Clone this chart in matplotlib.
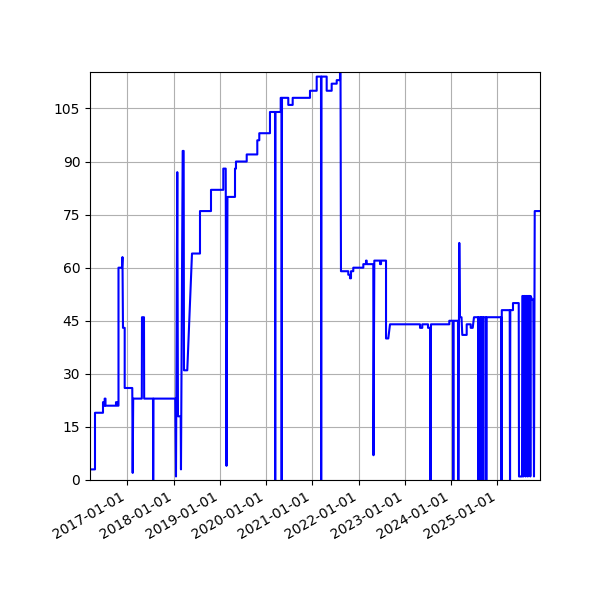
import matplotlib
matplotlib.use("Agg")
import matplotlib.pyplot as plt
import matplotlib.dates as mdates
from matplotlib.ticker import MultipleLocator
import numpy as np
import pandas as pd

# sample times
years = [2016.194, 2016.302, 2016.302, 2016.475, 2016.475, 2016.496, 2016.496, 2016.511,
         2016.511, 2016.529, 2016.529, 2016.756, 2016.756, 2016.784, 2016.784, 2016.810,
         2016.810, 2016.885, 2016.896, 2016.907, 2016.944, 2016.944, 2017.108, 2017.117,
         2017.128, 2017.314, 2017.318, 2017.361, 2017.365, 2017.556, 2017.560, 2017.566,
         2018.038, 2018.053, 2018.081, 2018.096, 2018.155, 2018.161, 2018.198, 2018.219,
         2018.226, 2018.297, 2018.399, 2018.572, 2018.572, 2018.810, 2018.810, 2019.076,
         2019.076, 2019.128, 2019.145, 2019.166, 2019.329, 2019.329, 2019.350, 2019.350,
         2019.582, 2019.582, 2019.811, 2019.811, 2019.854, 2019.854, 2020.085, 2020.085,
         2020.194, 2020.198, 2020.204, 2020.317, 2020.317, 2020.334, 2020.338, 2020.345,
         2020.481, 2020.481, 2020.576, 2020.576, 2020.950, 2020.950, 2021.095, 2021.095,
         2021.188, 2021.192, 2021.199, 2021.311, 2021.311, 2021.419, 2021.419, 2021.528,
         2021.528, 2021.599, 2021.599, 2021.610, 2021.620, 2021.778, 2021.778, 2021.815,
         2021.815, 2021.837, 2021.837, 2021.886, 2021.886, 2022.103, 2022.103, 2022.161,
         2022.161, 2022.176, 2022.176, 2022.319, 2022.323, 2022.341, 2022.464, 2022.464,
         2022.486, 2022.486, 2022.594, 2022.594, 2022.643, 2022.680, 2023.329, 2023.329,
         2023.378, 2023.378, 2023.502, 2023.502, 2023.545, 2023.556, 2023.566, 2023.962,
         2023.962, 2024.042, 2024.049, 2024.055, 2024.150, 2024.157, 2024.178, 2024.193,
         2024.226, 2024.243, 2024.338, 2024.338, 2024.425, 2024.425, 2024.468, 2024.496,
         2024.583, 2024.589, 2024.596, 2024.637, 2024.641, 2024.648, 2024.691, 2024.697,
         2024.704, 2024.756, 2024.762, 2024.769, 2025.086, 2025.091, 2025.097, 2025.268,
         2025.275, 2025.281, 2025.339, 2025.339, 2025.463, 2025.469, 2025.534, 2025.541,
         2025.556, 2025.562, 2025.577, 2025.605, 2025.612, 2025.627, 2025.653, 2025.659,
         2025.670, 2025.707, 2025.714, 2025.722, 2025.750, 2025.778, 2025.793, 2025.809,
         2025.923]

values = [3, 3, 19, 19, 22, 22, 21, 21,
          23, 23, 21, 21, 22, 22, 21, 21,
          60, 60, 63, 43, 43, 26, 26, 2,
          23, 23, 46, 46, 23, 23, 0, 23,
          23, 1, 87, 18, 18, 3, 93, 93,
          31, 31, 64, 64, 76, 76, 82, 82,
          88, 88, 4, 80, 80, 88, 88, 90,
          90, 92, 92, 96, 96, 98, 98, 104,
          104, 0, 104, 104, 108, 108, 0, 108,
          108, 106, 106, 108, 108, 110, 110, 114,
          114, 0, 114, 114, 110, 110, 112, 112,
          113, 113, 116, 116, 59, 59, 58, 58,
          57, 57, 59, 59, 60, 60, 61, 61,
          62, 62, 61, 61, 7, 62, 62, 61,
          61, 62, 62, 40, 40, 44, 44, 43,
          43, 44, 44, 43, 43, 0, 44, 44,
          45, 45, 0, 45, 45, 0, 67, 46,
          46, 41, 41, 44, 44, 43, 43, 46,
          46, 0, 46, 46, 0, 46, 46, 0,
          46, 46, 0, 46, 46, 0, 48, 48,
          0, 48, 48, 50, 50, 1, 1, 52,
          52, 1, 52, 52, 1, 52, 52, 1,
          52, 52, 1, 52, 51, 51, 1, 76,
          76]


def to_date(yr):
    yr = np.asarray(yr)
    base = pd.Timestamp("2017-01-01")
    return base + pd.to_timedelta((yr - 2017) * 365.25, unit="D")


dates = to_date(years)

fig = plt.figure(figsize=(6, 6), dpi=100)
ax = fig.add_subplot(111)
ax.plot(dates, values, color="blue", linewidth=1.5)

ax.set_xlim(dates[0], dates[-1])
ax.set_ylim(0, 115.3)
ax.yaxis.set_major_locator(MultipleLocator(15))
ax.xaxis.set_major_locator(mdates.YearLocator())
ax.xaxis.set_major_formatter(mdates.DateFormatter("%Y-%m-%d"))
ax.grid(True)

fig.autofmt_xdate()
fig.subplots_adjust(left=0.15, right=0.9, top=0.88, bottom=0.2)
fig.savefig("out.png", dpi=100)
